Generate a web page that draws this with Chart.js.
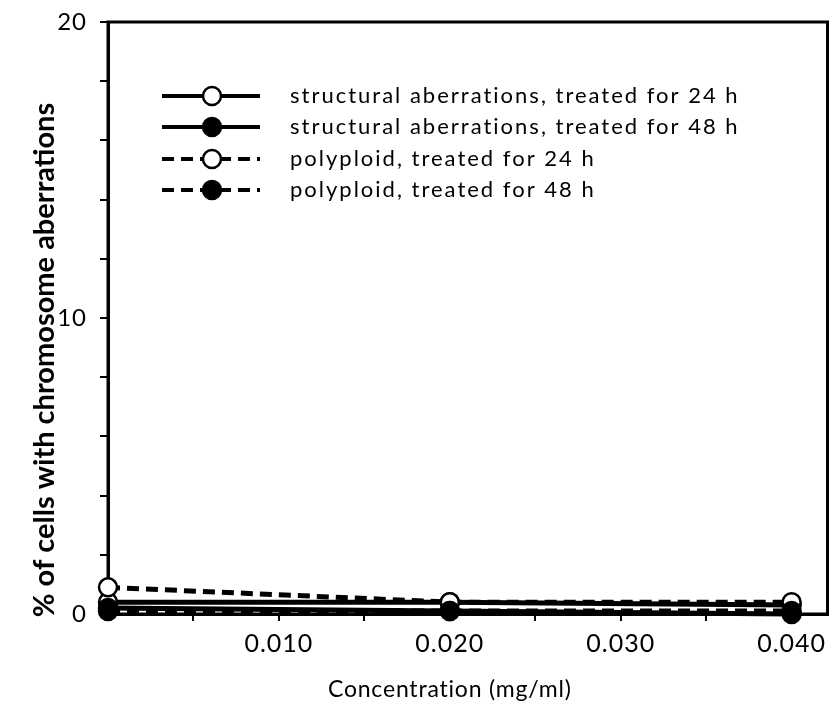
<!DOCTYPE html>
<html>
<head>
<meta charset="utf-8">
<script src="https://cdn.jsdelivr.net/npm/chart.js@4/dist/chart.umd.min.js"></script>
<style>
html,body{margin:0;padding:0;background:#fff;}
#wrap{width:839px;height:710px;position:relative;}
</style>
</head>
<body>
<div id="wrap"><canvas id="c" width="839" height="710"></canvas></div>
<script>
// ---- data ----
const concentrations = [0, 0.020, 0.040];
const structural24 = [0.4, 0.4, 0.3];
const structural48 = [0.2, 0.1, 0.0];
const polyploid24 = [0.9, 0.4, 0.4];
const polyploid48 = [0.1, 0.1, 0.1];
const seriesLabels = [
  "structural aberrations, treated for 24 h",
  "structural aberrations, treated for 48 h",
  "polyploid, treated for 24 h",
  "polyploid, treated for 48 h"
];
const xTickValues = [0.005, 0.010, 0.015, 0.020, 0.025, 0.030, 0.035, 0.040];
const xTickLabels = ["", "0.010", "", "0.020", "", "0.030", "", "0.040"];
const yTickValues = [0, 2, 4, 6, 8, 10, 12, 14, 16, 18, 20];
const yTickLabels = ["0", "", "", "", "", "10", "", "", "", "", "20"];
const xTitle = "Concentration (mg/ml)";
const yTitle = "% of cells with chromosome aberrations";

const FONT = "Lato";
const pts = (arr) => concentrations.map((x, i) => ({x: x, y: arr[i]}));

function ds(label, arr, filled, dashed, order) {
  return {
    label: label,
    data: pts(arr),
    borderColor: '#000',
    backgroundColor: filled ? '#000' : '#fff',
    borderWidth: 5,
    borderDash: dashed ? [12, 7] : [],
    pointRadius: 9,
    pointBorderWidth: 2.5,
    pointBorderColor: '#000',
    pointBackgroundColor: filled ? '#000' : '#fff',
    tension: 0,
    fill: false,
    clip: false,
    order: order
  };
}

const spacing = {
  id: 'spacing',
  beforeDraw(chart) { chart.ctx.letterSpacing = '1px'; }
};

const frame = {
  id: 'frame',
  beforeDatasetsDraw(chart) {
    const a = chart.chartArea, ctx = chart.ctx;
    ctx.save();
    ctx.strokeStyle = '#000';
    ctx.lineWidth = 3;
    ctx.strokeRect(a.left, a.top, a.right - a.left, a.bottom - a.top);
    ctx.restore();
  }
};

const texts = {
  id: 'texts',
  afterDraw(chart) {
    const ctx = chart.ctx;
    const xs = chart.scales.x;
    ctx.save();
    ctx.fillStyle = '#000';
    // x title, centred under the middle concentration
    ctx.letterSpacing = '0.8px';
    ctx.font = '23px ' + FONT;
    ctx.textAlign = 'center';
    ctx.textBaseline = 'middle';
    ctx.fillText(xTitle, xs.getPixelForValue(concentrations[1]), 690);
    // y title
    ctx.letterSpacing = '0px';
    ctx.translate(54, 360);
    ctx.rotate(-Math.PI / 2);
    ctx.font = 'bold 29px ' + FONT;
    ctx.textAlign = 'center';
    ctx.textBaseline = 'alphabetic';
    ctx.fillText(yTitle, 0, 0);
    ctx.restore();
  }
};

const legendLines = {
  id: 'legendLines',
  afterDraw(chart) {
    const ctx = chart.ctx;
    const x0 = 162, x1 = 260, xm = 212, tx = 290;
    const ys = [96, 127, 159, 190];
    ctx.save();
    chart.data.datasets.forEach((d, i) => {
      const y = ys[i];
      ctx.strokeStyle = '#000';
      ctx.lineWidth = 4;
      ctx.setLineDash(d.borderDash);
      ctx.beginPath(); ctx.moveTo(x0, y); ctx.lineTo(x1, y); ctx.stroke();
      ctx.setLineDash([]);
      ctx.beginPath(); ctx.arc(xm, y, 9, 0, Math.PI * 2);
      ctx.fillStyle = d.pointBackgroundColor; ctx.fill();
      ctx.lineWidth = 2.5; ctx.stroke();
      ctx.fillStyle = '#000';
      ctx.letterSpacing = '2px';
      ctx.font = '22px ' + FONT;
      ctx.textBaseline = 'middle';
      ctx.textAlign = 'left';
      ctx.fillText(d.label, tx, y);
    });
    ctx.restore();
  }
};

new Chart(document.getElementById('c'), {
  type: 'line',
  data: {
    datasets: [
      ds(seriesLabels[0], structural24, false, false, 4),
      ds(seriesLabels[1], structural48, true, false, 2),
      ds(seriesLabels[2], polyploid24, false, true, 3),
      ds(seriesLabels[3], polyploid48, true, true, 1)
    ]
  },
  options: {
    responsive: false,
    animation: false,
    layout: {padding: {top: 22, right: 7, left: 0, bottom: 0}},
    plugins: {legend: {display: false}, tooltip: {enabled: false}},
    scales: {
      x: {
        type: 'linear',
        min: 0, max: 0.0421,
        afterBuildTicks(scale) { scale.ticks = xTickValues.map(v => ({value: v})); },
        afterFit(scale) { scale.height = 96; scale.paddingLeft = 0; scale.paddingRight = 0; },
        ticks: {
          autoSkip: false, maxRotation: 0, color: '#000', padding: 8,
          font: {family: FONT, size: 25},
          callback(v, i) { return xTickLabels[i]; }
        },
        grid: {drawOnChartArea: false, drawTicks: true, tickLength: 7, color: '#000', lineWidth: 2},
        border: {display: true, color: '#000', width: 3}
      },
      y: {
        type: 'linear',
        min: 0, max: 20,
        afterBuildTicks(scale) { scale.ticks = yTickValues.map(v => ({value: v})); },
        afterFit(scale) { scale.width = 108; scale.paddingTop = 0; scale.paddingBottom = 0; },
        ticks: {
          autoSkip: false, color: '#000', padding: 13,
          font: {family: FONT, size: 24},
          callback(v, i) { return yTickLabels[i]; }
        },
        grid: {drawOnChartArea: false, drawTicks: true, tickLength: 8, color: '#000', lineWidth: 2},
        border: {display: true, color: '#000', width: 3}
      }
    }
  },
  plugins: [spacing, frame, texts, legendLines]
});
</script>
</body>
</html>
